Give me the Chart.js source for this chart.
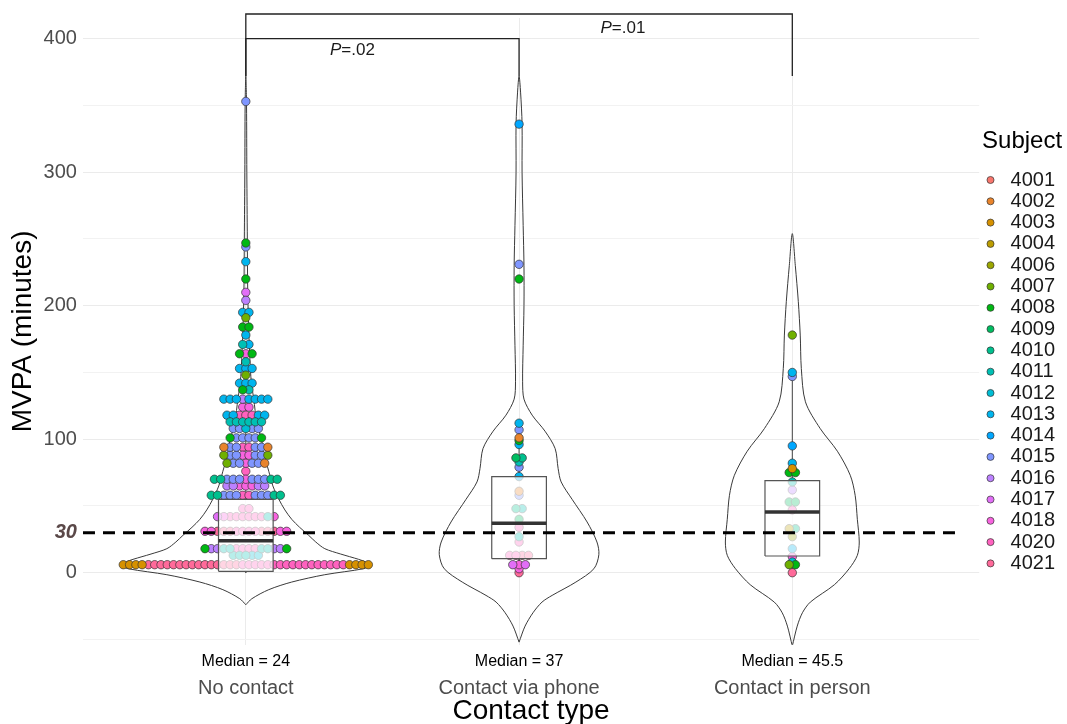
<!DOCTYPE html>
<html>
<head>
<meta charset="utf-8">
<script src="https://cdn.jsdelivr.net/npm/chart.js@4.4.1/dist/chart.umd.min.js"></script>
<style>
  html, body { margin: 0; padding: 0; background: #fff; }
  #wrap { width: 1067px; height: 724px; }
</style>
</head>
<body>
<div id="wrap"><canvas id="mvpaChart"></canvas></div>
<script>
const groups = ["No contact", "Contact via phone", "Contact in person"];
const subjects = ["4001", "4002", "4003", "4004", "4006", "4007", "4008", "4009", "4010",
  "4011", "4012", "4013", "4014", "4015", "4016", "4017", "4018", "4020", "4021"];

// box plot summary per group
const boxQ1 = [1, 10.5, 12.5];
const boxMedian = [24, 37, 45.5];
const boxQ3 = [55, 72, 69];
const whiskerLow = [0, 0, 0];
const whiskerHigh = [130, 112, 150];

// violin outlines: MVPA level and half width (share of one category)
const noContactLevels = [-24, -19.5, -12.7, -7, -1.5, 3, 5.5, 8, 10, 14, 18, 23, 28, 34, 40, 47, 55, 65, 76, 87, 98, 113, 130, 143, 160, 180, 210, 250, 300, 350, 372];
const noContactWidth = [0, .022, .084, .168, .289, .431, .457, .439, .413, .347, .289, .256, .230, .197, .168, .143, .121, .099, .084, .069, .059, .040, .029, .020, .015, .011, .007, .0055, .0037, .0026, 0];
const phoneLevels = [-52, -40, -30, -22, -17, -7, 3, 13.5, 23, 38, 55, 68, 78, 93, 106, 118, 130, 143, 170, 200, 230, 260, 300, 336, 360, 372];
const phoneWidth = [0, .022, .051, .084, .121, .208, .274, .292, .285, .249, .194, .154, .143, .132, .095, .048, .018, .013, .015, .018, .018, .015, .011, .011, .0055, 0];
const personLevels = [-55, -40, -30, -22, -9, 3, 13, 23, 40, 58, 73, 91, 108, 128, 153, 178, 203, 230, 254];
const personWidth = [0, .018, .037, .066, .154, .208, .238, .245, .238, .230, .212, .165, .102, .048, .033, .029, .022, .011, 0];

// dot rows: [MVPA, subject, count, subject, count, ...] left to right
const noContactDots = [
  [6, "4003", 4, "4021", 15, "4020", 17, "4003", 4],
  [13, "4011", 3, "4012", 2],
  [18, "4008", 1, "4016", 2, "4011", 2, "4020", 4, "4011", 2, "4016", 2, "4008", 1],
  [31, "4018", 2, "4021", 3, "4020", 4, "4021", 3, "4018", 2],
  [42, "4017", 1, "4018", 1, "4020", 6, "4011", 1, "4018", 1],
  [48, "4020", 2],
  [58, "4010", 2, "4015", 3, "4020", 2, "4015", 3, "4010", 2],
  [65, "4016", 2, "4018", 3, "4016", 2],
  [70, "4010", 2, "4015", 3, "4018", 1, "4015", 3, "4010", 2],
  [76, "4020", 1],
  [82, "4007", 1, "4015", 2, "4018", 1, "4015", 2, "4002", 1],
  [88, "4007", 1, "4015", 2, "4018", 2, "4015", 2, "4007", 1],
  [94, "4002", 1, "4015", 2, "4020", 2, "4015", 2, "4002", 1],
  [101, "4008", 1, "4015", 4, "4008", 1],
  [108, "4015", 2, "4012", 1, "4015", 2],
  [113, "4011", 6],
  [118, "4013", 2, "4020", 3, "4013", 2],
  [124, "4018", 2],
  [130, "4013", 3, "4016", 1, "4013", 4],
  [137, "4008", 1, "4011", 1],
  [142, "4013", 3],
  [148, "4007", 1],
  [153, "4013", 3],
  [158, "4011", 1],
  [164, "4008", 1, "4018", 1, "4008", 1],
  [171, "4011", 1, "4013", 1],
  [178, "4013", 1],
  [184, "4008", 2],
  [191, "4007", 1],
  [195, "4013", 2],
  [204, "4016", 1],
  [210, "4017", 1],
  [220, "4008", 1],
  [233, "4013", 1],
  [244, "4015", 1],
  [247, "4008", 1],
  [353, "4015", 1]
];
const phoneDots = [
  [0, "4021", 1],
  [3, "4018", 1],
  [6, "4017", 1, "4018", 1, "4017", 1],
  [13, "4020", 2, "4021", 2],
  [23, "4020", 1],
  [27, "4011", 1],
  [34, "4020", 1],
  [40, "4009", 1],
  [48, "4010", 1, "4011", 1],
  [58, "4015", 1],
  [61, "4002", 1],
  [72, "4013", 1],
  [79, "4015", 1],
  [83, "4011", 1],
  [86, "4009", 1, "4010", 1],
  [96, "4013", 1],
  [99, "4008", 1],
  [101, "4002", 1],
  [107, "4015", 1],
  [112, "4013", 1],
  [220, "4008", 1],
  [231, "4015", 1],
  [336, "4014", 1]
];
const personDots = [
  [0, "4021", 1],
  [6, "4007", 1, "4008", 1],
  [8, "4012", 1],
  [12, "4018", 1],
  [18, "4013", 1],
  [27, "4006", 1],
  [33, "4004", 1, "4010", 1],
  [47, "4020", 1],
  [53, "4009", 2],
  [62, "4016", 1],
  [68, "4011", 1],
  [75, "4008", 2],
  [78, "4003", 1],
  [82, "4013", 1],
  [95, "4014", 1],
  [147, "4015", 1],
  [150, "4013", 1],
  [178, "4007", 1]
];

const threshold = 30;
const yTicks = [-50, 0, 30, 50, 100, 150, 200, 250, 300, 350, 400];
const bracketFrom = [1, 1];
const bracketTo = [2, 3];
const bracketTop = [400, 418.5];
const bracketFoot = 372;
const bracketP = ["=.02", "=.01"];

const FONT = "'Liberation Sans', Arial, sans-serif";
const X_MIN = 0.404, X_MAX = 3.684;
const DOT_STEP = 0.023;
const BOX_HALF = 0.1;

// ggplot-like hue palette (hcl, c=100, l=65)
function hcl(h, c, l) {
  const hr = h * Math.PI / 180;
  const u = c * Math.cos(hr), v = c * Math.sin(hr);
  const Xn = 95.047, Yn = 100, Zn = 108.883;
  const d = Xn + 15 * Yn + 3 * Zn;
  const un = 4 * Xn / d, vn = 9 * Yn / d;
  const Y = Yn * (l > 8 ? Math.pow((l + 16) / 116, 3) : l / 903.3);
  const up = u / (13 * l) + un, vp = v / (13 * l) + vn;
  const X = 9 * Y * up / (4 * vp);
  const Z = 3 * Y / vp - X / 3 - 5 * Y;
  const x = X / 100, y = Y / 100, z = Z / 100;
  const lin = [
    3.240479 * x - 1.537150 * y - 0.498535 * z,
    -0.969256 * x + 1.875992 * y + 0.041556 * z,
    0.055648 * x - 0.204043 * y + 1.057311 * z
  ];
  return "#" + lin.map(c => {
    let g = c <= 0.0031308 ? 12.92 * c : 1.055 * Math.pow(c, 1 / 2.4) - 0.055;
    g = Math.round(Math.min(1, Math.max(0, g)) * 255);
    return g.toString(16).padStart(2, "0");
  }).join("");
}
const palette = subjects.map((s, i) => hcl(15 + i * 360 / subjects.length, 100, 65));

// place dots of each row side by side around the group centre
const dotsBySubject = {};
subjects.forEach(s => { dotsBySubject[s] = []; });
function layoutDots(rows, center) {
  rows.forEach(row => {
    const seq = [];
    for (let i = 1; i < row.length; i += 2) {
      for (let k = 0; k < row[i + 1]; k++) seq.push(row[i]);
    }
    seq.forEach((s, k) => {
      dotsBySubject[s].push({ x: center + (k - (seq.length - 1) / 2) * DOT_STEP, y: row[0] });
    });
  });
}
layoutDots(noContactDots, 1);
layoutDots(phoneDots, 2);
layoutDots(personDots, 3);

function violinPath(levels, widths, center) {
  const pts = levels.map((v, i) => ({ x: center - widths[i], y: v }));
  for (let i = levels.length - 2; i >= 0; i--) pts.push({ x: center + widths[i], y: levels[i] });
  return pts;
}

const lineBase = { type: "line", xAxisID: "x", pointRadius: 0, pointHoverRadius: 0, fill: false };
const datasets = [];

[[noContactLevels, noContactWidth], [phoneLevels, phoneWidth], [personLevels, personWidth]].forEach((v, i) => {
  datasets.push(Object.assign({}, lineBase, {
    label: "violin " + groups[i], data: violinPath(v[0], v[1], i + 1),
    borderColor: "#3a3a3a", borderWidth: 1, tension: 0.3, order: 5
  }));
});

groups.forEach((g, i) => {
  const c = i + 1;
  datasets.push(Object.assign({}, lineBase, {
    label: "whisker high " + g, data: [{ x: c, y: boxQ3[i] }, { x: c, y: whiskerHigh[i] }],
    borderColor: "#444", borderWidth: 1, order: 4
  }));
  datasets.push(Object.assign({}, lineBase, {
    label: "whisker low " + g, data: [{ x: c, y: boxQ1[i] }, { x: c, y: whiskerLow[i] }],
    borderColor: "#444", borderWidth: 1, order: 4
  }));
  datasets.push(Object.assign({}, lineBase, {
    label: "box " + g,
    data: [
      { x: c - BOX_HALF, y: boxQ1[i] }, { x: c + BOX_HALF, y: boxQ1[i] },
      { x: c + BOX_HALF, y: boxQ3[i] }, { x: c - BOX_HALF, y: boxQ3[i] },
      { x: c - BOX_HALF, y: boxQ1[i] }
    ],
    borderColor: "#555", borderWidth: 1.2, backgroundColor: "rgba(255,255,255,0.72)",
    fill: "shape", order: 2
  }));
  datasets.push(Object.assign({}, lineBase, {
    label: "median " + g, data: [{ x: c - BOX_HALF, y: boxMedian[i] }, { x: c + BOX_HALF, y: boxMedian[i] }],
    borderColor: "#333", borderWidth: 3.5, order: 1
  }));
});

subjects.forEach((s, i) => {
  datasets.push({
    type: "scatter", label: s, xAxisID: "x", data: dotsBySubject[s],
    backgroundColor: palette[i], borderColor: "#333", borderWidth: 0.7,
    pointRadius: 4.2, pointHoverRadius: 4.2, order: 3
  });
});

datasets.push(Object.assign({}, lineBase, {
  label: "threshold", data: [{ x: X_MIN, y: threshold }, { x: 3.6, y: threshold }],
  borderColor: "#000", borderWidth: 3, borderDash: [12, 8], order: 0
}));

bracketFrom.forEach((f, i) => {
  datasets.push(Object.assign({}, lineBase, {
    label: "bracket " + i, clip: false,
    data: [{ x: f, y: bracketFoot }, { x: f, y: bracketTop[i] }, { x: bracketTo[i], y: bracketTop[i] }, { x: bracketTo[i], y: bracketFoot }],
    borderColor: "#222", borderWidth: 1.3, order: 0
  }));
});

// p-value text under / above the brackets
const pLabelPlugin = {
  id: "pLabels",
  afterDatasetsDraw(chart, args, opts) {
    const { ctx, scales } = chart;
    ctx.save();
    ctx.fillStyle = "#1a1a1a";
    ctx.textBaseline = "middle";
    opts.anchors.forEach((a, i) => {
      const italic = "italic 17px " + FONT, normal = "17px " + FONT;
      ctx.font = italic;
      const wP = ctx.measureText("P").width;
      ctx.font = normal;
      const wR = ctx.measureText(bracketP[i]).width;
      const px = scales.x.getPixelForValue(a.x) - (wP + wR) / 2;
      const py = scales.y.getPixelForValue(a.y);
      ctx.textAlign = "left";
      ctx.font = italic;
      ctx.fillText("P", px, py);
      ctx.font = normal;
      ctx.fillText(bracketP[i], px + wP, py);
    });
    ctx.restore();
  }
};

Chart.defaults.font.family = FONT;

new Chart(document.getElementById("mvpaChart"), {
  type: "scatter",
  data: { datasets },
  plugins: [pLabelPlugin],
  options: {
    responsive: true,
    maintainAspectRatio: false,
    animation: false,
    events: [],
    layout: { padding: { top: 4, left: 9, right: 2, bottom: 0 } },
    scales: {
      x: {
        type: "linear", position: "bottom", weight: 1, min: X_MIN, max: X_MAX,
        afterBuildTicks: s => { s.ticks = [1, 2, 3].map(v => ({ value: v })); },
        ticks: {
          autoSkip: false, maxRotation: 0, padding: 0, color: "#4d4d4d",
          font: { size: 20, lineHeight: 1 },
          callback: v => groups[v - 1]
        },
        grid: { color: "#ebebeb", lineWidth: 1, drawTicks: false },
        border: { display: false },
        title: {
          display: true, text: "Contact type", color: "#000",
          font: { size: 28, lineHeight: 0.9 }, padding: 0
        }
      },
      xm: {
        type: "linear", position: "bottom", weight: 0, min: X_MIN, max: X_MAX,
        afterBuildTicks: s => { s.ticks = [1, 2, 3].map(v => ({ value: v })); },
        ticks: {
          autoSkip: false, maxRotation: 0, padding: 9, color: "#000",
          font: { size: 16, lineHeight: 1 },
          callback: v => "Median = " + boxMedian[v - 1]
        },
        grid: { display: false, drawTicks: false },
        border: { display: false }
      },
      y: {
        type: "linear", position: "left", min: -54, max: 415.5,
        afterBuildTicks: s => { s.ticks = yTicks.map(v => ({ value: v })); },
        ticks: {
          autoSkip: false, padding: 6,
          color: c => (c.tick && c.tick.value === threshold ? "#5a4848" : "#4d4d4d"),
          font: c => (c.tick && c.tick.value === threshold
            ? { size: 20, style: "italic", weight: "bold" }
            : { size: 20 }),
          callback: v => (v === threshold || (v >= 0 && v % 100 === 0) ? String(v) : "")
        },
        grid: {
          drawTicks: false,
          color: c => (c.tick && c.tick.value === threshold ? "rgba(0,0,0,0)"
            : (c.tick && c.tick.value % 100 === 0 ? "#ebebeb" : "#f2f2f2")),
          lineWidth: 1
        },
        border: { display: false },
        title: {
          display: true, text: "MVPA (minutes)", color: "#000",
          font: { size: 28, lineHeight: 1 }, padding: { top: 0, bottom: 0.6 }
        }
      }
    },
    plugins: {
      tooltip: { enabled: false },
      pLabels: { anchors: [{ x: 1.39, y: 391 }, { x: 2.38, y: 407.5 }] },
      legend: {
        position: "right",
        align: "start",
        title: {
          display: true, text: "Subject", color: "#000",
          font: { size: 24 }, padding: { top: 125.6, bottom: 10.3 }
        },
        labels: {
          usePointStyle: true, pointStyle: "circle",
          boxWidth: 20, boxHeight: 5, padding: 1.3,
          color: "#1a1a1a", font: { size: 20 },
          filter: item => subjects.includes(item.text)
        }
      }
    }
  }
});
</script>
</body>
</html>
